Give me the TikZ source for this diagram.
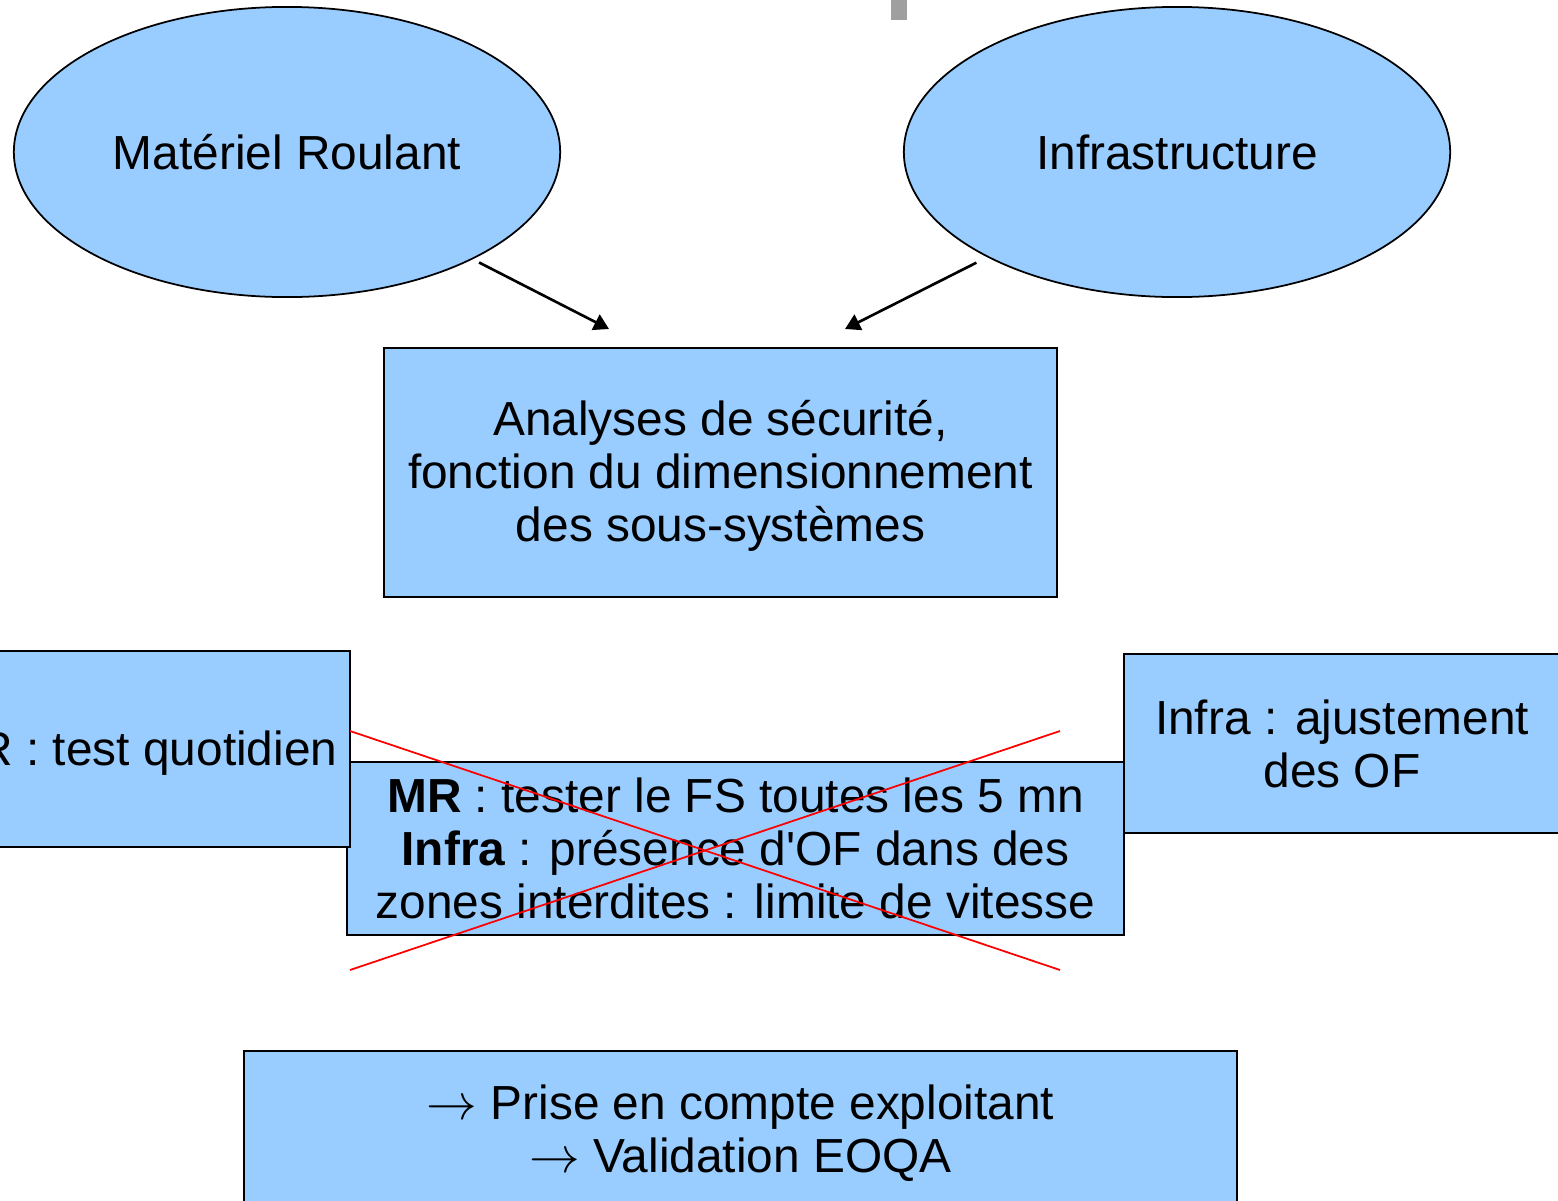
\documentclass[tikz,border=0pt]{standalone}
\usepackage{fontspec}
\setmainfont{Liberation Sans}
\usepackage{tikz}
\usetikzlibrary{shapes.geometric}
\usetikzlibrary{arrows.meta}
\definecolor{bleuclair}{RGB}{153,204,255}
\definecolor{rougebarre}{RGB}{255,0,0}
% hauteur de ligne fixe, pour centrer les textes comme dans l'original
\newcommand{\lgn}{\rule[-0.16em]{0pt}{1.04em}}

\begin{document}
\begin{tikzpicture}[x=0.01cm, y=-0.01cm,
    every node/.style={font=\fontsize{13.6}{15}\selectfont, align=center, inner sep=0pt},
    bulle/.style={ellipse, draw, fill=bleuclair, line width=0.5pt, minimum width=5.46cm, minimum height=2.90cm},
    boite/.style={rectangle, draw, fill=bleuclair, line width=0.6pt},
    fleche/.style={-{Triangle[length=0.15cm, width=0.17cm]}, line width=0.75pt},
    barre/.style={draw=rougebarre, line width=0.5pt}]
      \clip (0, 0) rectangle (1558, 1200);
      \fill[gray!75] (891, 0) rectangle (907, 20);
      \node[bulle] (ml) at (287, 152) {\lgn Matériel Roulant};
      \node[bulle] (infra) at (1177, 152) {\lgn Infrastructure};
      \node[boite, minimum width=6.73cm, minimum height=2.49cm] (analyses) at (720.5, 472.5) {\lgn Analyses de sécurité,\\\lgn fonction du dimensionnement\\\lgn des sous-systèmes};
      \coordinate (pointe1) at (609, 329);
      \coordinate (pointe2) at (845, 329);
      \draw[fleche, shorten <=0.07cm] (ml.-30) -- (pointe1);
      \draw[fleche, shorten <=0.12cm] (infra.-151) -- (pointe2);
      \node[boite, minimum width=7.77cm, minimum height=1.73cm] (mesures) at (735.5, 848.5) {\lgn\textbf{MR} : tester le FS toutes les 5 mn\\\lgn\textbf{Infra} : présence d\textquotesingle OF dans des\\\lgn zones interdites : limite de vitesse};
      \node[boite, minimum width=4.24cm, minimum height=1.96cm] (mrtest) at (138, 749) {\lgn MR : test quotidien};
      \node[boite, minimum width=4.36cm, minimum height=1.79cm] (infraof) at (1342, 743.5) {\lgn Infra : ajustement\\\lgn des OF};
      \coordinate (xhg) at (350, 731);
      \coordinate (xbd) at (1060, 970);
      \coordinate (xbg) at (350, 970);
      \coordinate (xhd) at (1060, 731);
      \draw[barre] (xhg) -- (xbd);
      \draw[barre] (xbg) -- (xhd);
      \node[boite, minimum width=9.93cm, minimum height=1.57cm] (exploit) at (740.5, 1129.5) {\lgn$\rightarrow$ Prise en compte exploitant\\\lgn$\rightarrow$ Validation EOQA};
\end{tikzpicture}
\end{document}
